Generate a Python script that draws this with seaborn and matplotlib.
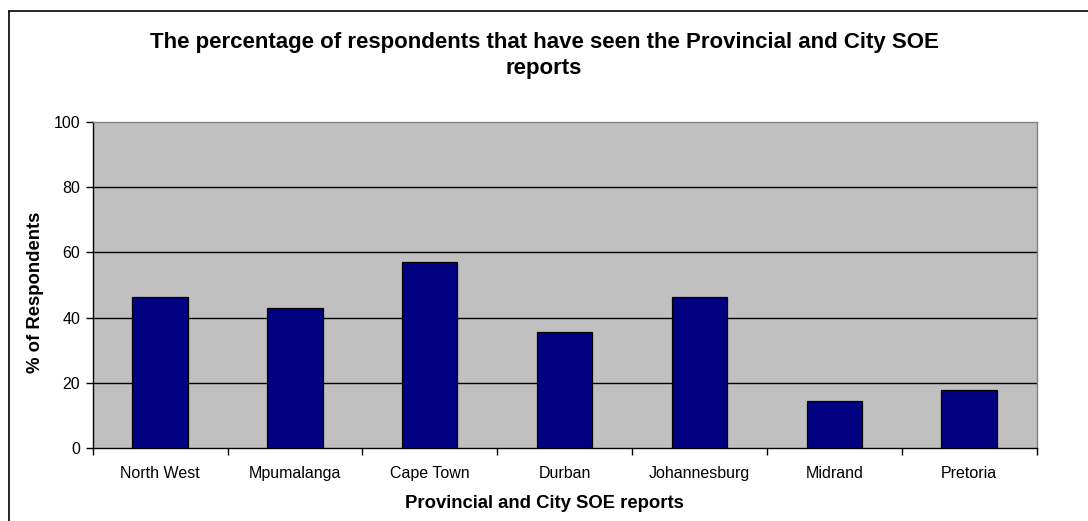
import numpy as np
import pandas as pd
import matplotlib as mpl
mpl.use('Agg')
import matplotlib.pyplot as plt
import seaborn as sns
from matplotlib.lines import Line2D

# Values
reports = ['North West', 'Mpumalanga', 'Cape Town', 'Durban',
           'Johannesburg', 'Midrand', 'Pretoria']
pct_seen = [46.4, 42.9, 57.1, 35.7, 46.4, 14.3, 17.9]
y_ticks = [0, 20, 40, 60, 80, 100]

sns.set_theme(style='white')
plt.rcParams['font.family'] = ['Liberation Sans', 'DejaVu Sans']
for key in ['text.color', 'axes.labelcolor', 'xtick.color', 'ytick.color']:
    plt.rcParams[key] = 'black'

W, H = 1088., 521.
df = pd.DataFrame({'report': reports, 'pct': pct_seen})

fig = plt.figure(figsize=(W / 100, H / 100), dpi=100)
ax = fig.add_axes([0.0852, 0.1401, 0.8675, 0.6257])
ax.set_facecolor('#c0c0c0')

sns.barplot(data=df, x='report', y='pct', color='#000080', saturation=1,
            width=0.41, edgecolor='black', linewidth=0.9, ax=ax, zorder=3)

ax.set_ylim(0, 100)
ax.set_xlim(-0.5, len(reports) - 0.5)
ax.set_yticks(y_ticks)
ax.set_yticklabels([str(t) for t in y_ticks], fontsize=11.5)
for t in y_ticks[1:-1]:
    ax.axhline(t, color='black', linewidth=1.0, zorder=1)

# category labels on minor ticks, boundary ticks as majors
ax.set_xticks(np.arange(len(reports) + 1) - 0.5)
ax.set_xticklabels([])
ax.set_xticks(np.arange(len(reports)), minor=True)
ax.set_xticklabels(reports, minor=True, fontsize=11.5)
ax.tick_params(axis='x', which='minor', length=0, pad=13)
ax.tick_params(axis='x', which='major', length=5, width=1, color='black',
               direction='out', bottom=True)
ax.tick_params(axis='y', length=5, width=1, color='black', direction='out',
               left=True, pad=4)

for side in ['top', 'right']:
    ax.spines[side].set_color('#808080')
    ax.spines[side].set_linewidth(1.0)
for side in ['left', 'bottom']:
    ax.spines[side].set_color('black')
    ax.spines[side].set_linewidth(1.0)

ax.set_xlabel('')
ax.set_ylabel('')
fig.text(0.5, 1 - 504 / H, 'Provincial and City SOE reports', fontsize=13.3,
         fontweight='bold', ha='center', va='center')
fig.text(36 / W, 1 - 292 / H, '% of Respondents', fontsize=13.3,
         fontweight='bold', ha='center', va='center', rotation=90)

fig.text(0.5, 1 - 47.7 / H,
         'The percentage of respondents that have seen the Provincial and City SOE',
         ha='center', va='baseline', fontsize=16, fontweight='bold')
fig.text(0.5, 1 - 73.7 / H, 'reports',
         ha='center', va='baseline', fontsize=16, fontweight='bold')

# chart area frame (left and top edges visible)
fig.add_artist(Line2D([8.5 / W, 8.5 / W], [0, 1 - 11 / H],
                      color='black', linewidth=1.2))
fig.add_artist(Line2D([8.5 / W, 1], [1 - 11 / H, 1 - 11 / H],
                      color='black', linewidth=1.2))

fig.savefig('out.png', dpi=100)
